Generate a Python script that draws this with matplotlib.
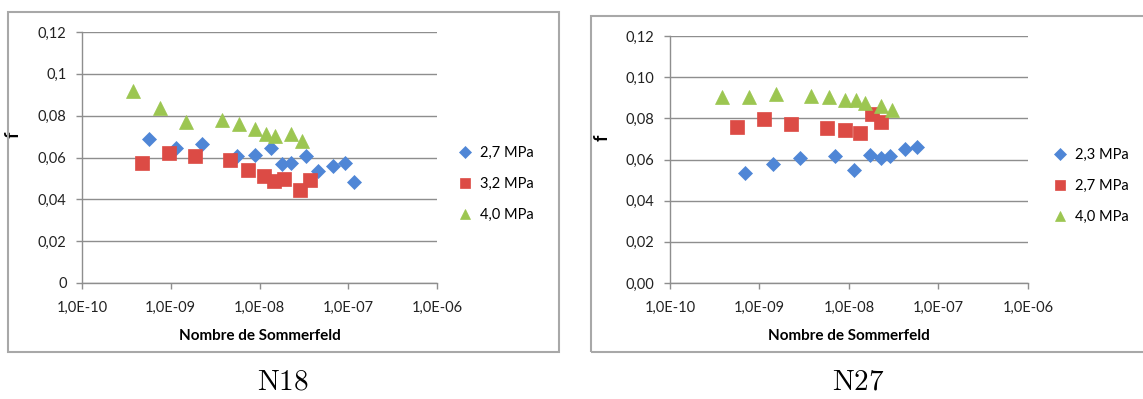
import matplotlib
matplotlib.use("Agg")
import matplotlib.pyplot as plt
from matplotlib.patches import Rectangle
from matplotlib.ticker import FixedLocator, NullLocator

plt.rcParams['font.family'] = ['Lato', 'DejaVu Sans']
plt.rcParams['mathtext.fontset'] = 'cm'

# ---- N18 data ----
n18_labels = ["2,7 MPa", "3,2 MPa", "4,0 MPa"]
n18_x_27 = [5.7e-10, 1.14e-9, 2.24e-9, 5.65e-9, 9.0e-9, 1.36e-8, 1.79e-8, 2.25e-8, 3.36e-8, 4.55e-8, 6.7e-8, 9.1e-8, 1.16e-7]
n18_f_27 = [0.0689, 0.0646, 0.0664, 0.0606, 0.0613, 0.0645, 0.0568, 0.0576, 0.0605, 0.0535, 0.0560, 0.0575, 0.0481]
n18_x_32 = [4.8e-10, 9.6e-10, 1.9e-9, 4.67e-9, 7.5e-9, 1.11e-8, 1.44e-8, 1.87e-8, 2.83e-8, 3.72e-8]
n18_f_32 = [0.0575, 0.0622, 0.0608, 0.0589, 0.0538, 0.0512, 0.0487, 0.0497, 0.0444, 0.0492]
n18_x_40 = [3.8e-10, 7.6e-10, 1.5e-9, 3.76e-9, 5.9e-9, 9.0e-9, 1.19e-8, 1.5e-8, 2.25e-8, 3.0e-8]
n18_f_40 = [0.0918, 0.0839, 0.0770, 0.0781, 0.0762, 0.0737, 0.0710, 0.0702, 0.0710, 0.0678]

# ---- N27 data ----
n27_labels = ["2,3 MPa", "2,7 MPa", "4,0 MPa"]
n27_x_23 = [6.95e-10, 1.42e-9, 2.85e-9, 7.0e-9, 1.13e-8, 1.71e-8, 2.27e-8, 2.86e-8, 4.25e-8, 5.73e-8]
n27_f_23 = [0.0534, 0.0577, 0.0605, 0.0615, 0.0550, 0.0624, 0.0605, 0.0616, 0.0650, 0.0660]
n27_x_27 = [5.67e-10, 1.12e-9, 2.25e-9, 5.69e-9, 9.06e-9, 1.34e-8, 1.80e-8, 2.25e-8]
n27_f_27 = [0.0760, 0.0797, 0.0773, 0.0754, 0.0741, 0.0731, 0.0822, 0.0780]
n27_x_40 = [3.81e-10, 7.6e-10, 1.52e-9, 3.78e-9, 5.94e-9, 8.97e-9, 1.19e-8, 1.51e-8, 2.28e-8, 3.06e-8]
n27_f_40 = [0.0906, 0.0906, 0.0917, 0.0909, 0.0902, 0.0889, 0.0889, 0.0873, 0.0860, 0.0841]

x_ticks = [1e-10, 1e-9, 1e-8, 1e-7, 1e-6]
x_ticklabels = ["1,0E-10", "1,0E-09", "1,0E-08", "1,0E-07", "1,0E-06"]
y_ticks = [0, 0.02, 0.04, 0.06, 0.08, 0.10, 0.12]
n18_yticklabels = ["0", "0,02", "0,04", "0,06", "0,08", "0,1", "0,12"]
n27_yticklabels = ["0,00", "0,02", "0,04", "0,06", "0,08", "0,10", "0,12"]
titles = ["N18", "N27"]

BLUE = '#4f86d6'
RED = '#dc4b45'
GREEN = '#9cc651'
GRID = '#8e8e8e'

W, H = 1143, 399
fig = plt.figure(figsize=(W / 100, H / 100), dpi=100)


def px_rect(x0, y0, x1, y1):
    return [x0 / W, 1 - y1 / H, (x1 - x0) / W, (y1 - y0) / H]


# outer boxes
for (x0, y0, x1, y1) in [(8, 12, 559, 352), (591, 16, 1150, 352)]:
    r = px_rect(x0, y0, x1, y1)
    fig.patches.append(Rectangle((r[0], r[1]), r[2], r[3], transform=fig.transFigure,
                                 fill=False, edgecolor='#a8a8a8', linewidth=1.5))


def draw(ax, series, labels, yticklabels, legend_pos, ylabel_x):
    markers = ['D', 's', '^']
    colors = [BLUE, RED, GREEN]
    sizes = [7.5, 10, 10]
    handles = []
    for (xs, fs), m, c, s, lab in zip(series, markers, colors, sizes, labels):
        h, = ax.plot(xs, fs, linestyle='none', marker=m, markersize=s, color=c,
                     markeredgecolor=c, markeredgewidth=0.5, label=lab, zorder=3)
        handles.append(h)
    ax.set_xscale('log')
    ax.set_xlim(1e-10, 1e-6)
    ax.set_ylim(0, 0.12)
    ax.xaxis.set_major_locator(FixedLocator(x_ticks))
    ax.xaxis.set_minor_locator(NullLocator())
    ax.set_xticklabels(x_ticklabels)
    ax.set_yticks(y_ticks)
    ax.set_yticklabels(yticklabels)
    ax.grid(axis='y', color=GRID, linewidth=1.0, zorder=0)
    ax.set_axisbelow(True)
    for s in ['top', 'right']:
        ax.spines[s].set_visible(False)
    for s in ['left', 'bottom']:
        ax.spines[s].set_color(GRID)
        ax.spines[s].set_linewidth(1.0)
    ax.tick_params(axis='x', direction='out', length=4, width=1, color=GRID,
                   pad=9, labelsize=10.5, labelcolor='#222222')
    ax.tick_params(axis='y', direction='out', length=4, width=1, color=GRID,
                   pad=7, labelsize=10.5, labelcolor='#222222')
    ax.set_xlabel('Nombre de Sommerfeld', fontsize=11, fontweight='bold', labelpad=10)
    ax.set_ylabel('f', fontsize=13, fontweight='bold', rotation=90)
    ax.yaxis.set_label_coords(ylabel_x, 0.59)
    leg = fig.legend(handles=handles, loc='center left', bbox_to_anchor=legend_pos,
                     frameon=False, fontsize=10.5, markerscale=0.75, handlelength=1.0,
                     handletextpad=0.5, labelspacing=1.15, borderpad=0, borderaxespad=0)
    return leg


ax1 = fig.add_axes(px_rect(82, 32, 437, 283))
draw(ax1, [(n18_x_27, n18_f_27), (n18_x_32, n18_f_32), (n18_x_40, n18_f_40)],
     n18_labels, n18_yticklabels, (458 / W, 1 - 184 / H), -0.17)

ax2 = fig.add_axes(px_rect(670, 36, 1028, 283))
draw(ax2, [(n27_x_23, n27_f_23), (n27_x_27, n27_f_27), (n27_x_40, n27_f_40)],
     n27_labels, n27_yticklabels, (1053 / W, 1 - 186 / H), -0.165)

fig.text(283 / W, 1 - 382 / H, r'$\mathrm{' + titles[0] + '}$', fontsize=21,
         ha='center', va='center')
fig.text(858 / W, 1 - 382 / H, r'$\mathrm{' + titles[1] + '}$', fontsize=21,
         ha='center', va='center')

fig.savefig('out.png', dpi=100)
